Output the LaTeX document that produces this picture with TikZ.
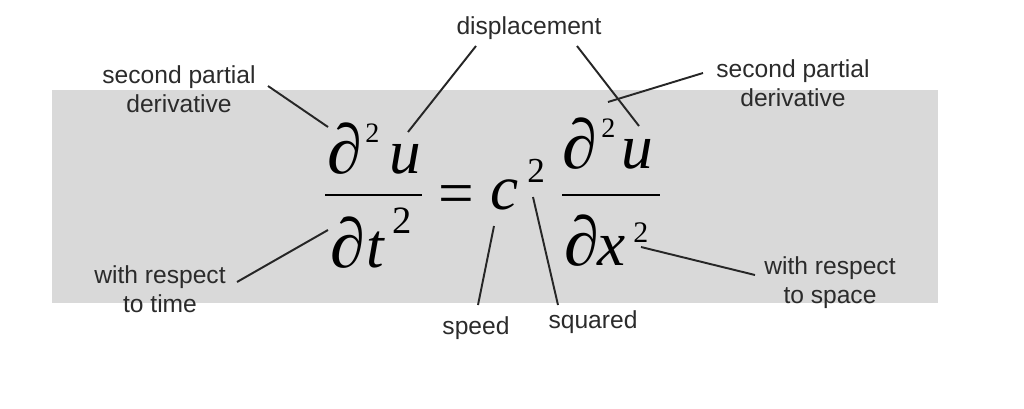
\documentclass[tikz,border=0pt]{standalone}
\usepackage{fontspec}
\setsansfont{Liberation Sans}
\newfontfamily\eqfont{Liberation Serif}
\definecolor{panel}{gray}{0.85}
\definecolor{ink}{gray}{0.17}
\tikzset{
  lbl/.style={font=\sffamily\fontsize{14}{16.5}\selectfont, text=ink, align=center, inner sep=0pt},
  sym/.style={font=\eqfont\itshape\fontsize{36}{36}\selectfont, inner sep=0pt, anchor=base west},
  dee/.style={font=\eqfont\itshape\fontsize{40}{40}\selectfont, inner sep=0pt, anchor=base west},
  upsym/.style={font=\eqfont\fontsize{36}{36}\selectfont, inner sep=0pt, anchor=base west},
  supr/.style={font=\eqfont\fontsize{#1}{#1}\selectfont, inner sep=0pt, anchor=base west},
  supr/.default=16,
  lead/.style={line width=1.1pt, black!85},
  fracbar/.style={line width=1.5pt}
}
\begin{document}
\begin{tikzpicture}[x=0.2mm,y=-0.2mm]
  \useasboundingbox (0,0) rectangle (1024,409);
  \fill[panel] (52,90) rectangle (938,303);

  % left fraction
  \node[dee]      (dL)  at (327,173) {∂};
  \node[supr=16]  (sL)  at (365,142) {2};
  \node[sym]      (uL)  at (389,173) {u};
  \draw[fracbar] (325,195) -- (422,195);
  \node[dee]      (dT)  at (330,267) {∂};
  \node[sym]      (tT)  at (366,267) {t};
  \node[supr=22]  (sT)  at (392,233) {2};

  % equals and speed
  \node[upsym]    (eq)  at (438,214) {=};
  \node[sym]      (c)   at (490,209) {c};
  \node[supr=20]  (sC)  at (527,182) {2};

  % right fraction
  \node[dee]      (dR)  at (562,168) {∂};
  \node[supr=16]  (sR)  at (601,137) {2};
  \node[sym]      (uR)  at (621,168) {u};
  \draw[fracbar] (562,195) -- (660,195);
  \node[dee]      (dX)  at (564,265) {∂};
  \node[sym]      (xX)  at (597,265) {x};
  \node[supr=17]  (sX)  at (633,242) {2};

  % labels
  \node[lbl] (disp)   at (529,28)  {displacement};
  \node[lbl] (spL)    at (179,89)  {second partial\\derivative};
  \node[lbl] (spR)    at (793,83)  {second partial\\derivative};
  \node[lbl] (time)   at (160,289) {with respect\\to time};
  \node[lbl] (space)  at (830,283) {with respect\\to space};
  \node[lbl] (speed)  at (476,328) {speed};
  \node[lbl] (square) at (593,322) {squared};

  % leader ends
  \coordinate (spL-a) at (268,86);   \coordinate (spL-b) at (328,127);
  \coordinate (dispL-a) at (476,46); \coordinate (dispL-b) at (408,132);
  \coordinate (dispR-a) at (577,46); \coordinate (dispR-b) at (639,126);
  \coordinate (spR-a) at (703,73);   \coordinate (spR-b) at (608,102);
  \coordinate (time-a) at (237,282); \coordinate (time-b) at (328,230);
  \coordinate (space-a) at (755,275); \coordinate (space-b) at (641,247);
  \coordinate (speed-a) at (478,305); \coordinate (speed-b) at (494,226);
  \coordinate (sq-a) at (558,305);   \coordinate (sq-b) at (533,197);

  \draw[lead] (spL-a) -- (spL-b);
  \draw[lead] (dispL-a) -- (dispL-b);
  \draw[lead] (dispR-a) -- (dispR-b);
  \draw[lead] (spR-a) -- (spR-b);
  \draw[lead] (time-a) -- (time-b);
  \draw[lead] (space-a) -- (space-b);
  \draw[lead] (speed-a) -- (speed-b);
  \draw[lead] (sq-a) -- (sq-b);
\end{tikzpicture}
\end{document}
